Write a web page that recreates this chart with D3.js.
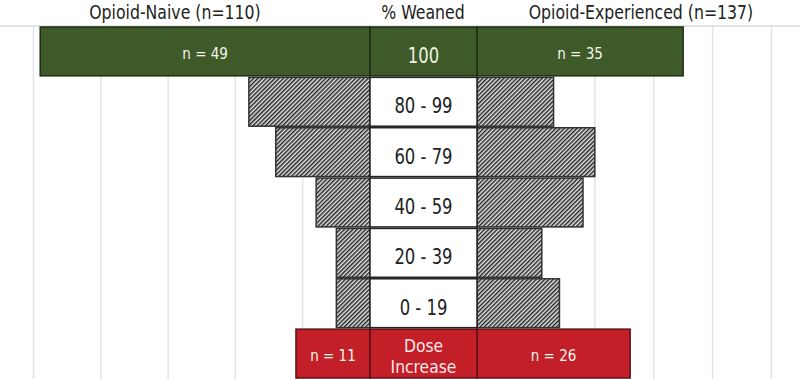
<!DOCTYPE html>
<html>
<head>
<meta charset="utf-8">
<script src="https://cdn.jsdelivr.net/npm/d3@7"></script>
<style>
  html, body { margin: 0; padding: 0; background: #fff; }
  #container { width: 800px; height: 379px; }
  text { font-family: "DejaVu Sans Condensed", "Liberation Sans Narrow", "Roboto", sans-serif; }
</style>
</head>
<body>
<div id="container"></div>
<script>
// 数据
const categories = ["100", "80 - 99", "60 - 79", "40 - 59", "20 - 39", "0 - 19", "Dose Increase"];
const naive = [49, 18, 14, 8, 5, 5, 11]; // Opioid-Naive 每组人数
const experienced = [35, 13, 20, 18, 11, 14, 26]; // Opioid-Experienced 每组人数
const gridTicks = [0, 10, 20, 30, 40, 50];
const headers = ["Opioid-Naive (n=110)", "% Weaned", "Opioid-Experienced (n=137)"];

const width = 800;
const height = 379;

const svg = d3.select("#container")
  .append("svg")
  .attr("width", width)
  .attr("height", height)
  .attr("viewBox", [0, 0, width, height]);

// 横向压缩文字（原图字体较窄）
function squeeze(sel, k) {
  sel.each(function (d) {
    const f = typeof k === "function" ? k(d) : k;
    const w = this.getComputedTextLength();
    this.setAttribute("textLength", w * f);
    this.setAttribute("lengthAdjust", "spacingAndGlyphs");
  });
}

// 斜线填充
const defs = svg.append("defs");
const pat = defs.append("pattern")
  .attr("id", "hatch")
  .attr("patternUnits", "userSpaceOnUse")
  .attr("width", 3)
  .attr("height", 3)
  .attr("patternTransform", "rotate(45)");
pat.append("rect").attr("width", 3).attr("height", 3).attr("fill", "#e4e4e4");
pat.append("line")
  .attr("x1", 0.75).attr("y1", 0).attr("x2", 0.75).attr("y2", 3)
  .attr("stroke", "#1a1a1a").attr("stroke-width", 1.4);

// 比例尺：两侧各自的像素比例
const centerL = 370, centerR = 477;
const midX = (centerL + centerR) / 2;
const xLeft = d3.scaleLinear([0, 50], [centerL, 33.5]);
const xRight = d3.scaleLinear([0, 50], [centerR, 771.5]);
const y = d3.scaleBand(categories, [27, 378]).paddingInner(0.03);
const last = categories.length - 1;

const green = "#3e5a28", red = "#c21f28";
const fillFor = (i) => i === 0 ? green : i === last ? red : "url(#hatch)";
const strokeFor = (i) => i === 0 ? "#1f2d14" : i === last ? "#5a1014" : "#333";

// 网格线
const grid = svg.append("g").attr("stroke", "#e4e4e4").attr("stroke-width", 1.5);
grid.selectAll(".gl").data(gridTicks.slice(1)).join("line")
  .attr("class", "gl")
  .attr("x1", d => xLeft(d)).attr("x2", d => xLeft(d))
  .attr("y1", 26).attr("y2", height);
grid.selectAll(".gr").data(gridTicks.slice(1)).join("line")
  .attr("class", "gr")
  .attr("x1", d => xRight(d)).attr("x2", d => xRight(d))
  .attr("y1", 26).attr("y2", height);

// 表头分隔线
svg.append("line")
  .attr("x1", 0).attr("x2", width).attr("y1", 26).attr("y2", 26)
  .attr("stroke", "#c8c8c8").attr("stroke-width", 1);

// 表头
svg.append("g")
  .attr("font-size", 19)
  .attr("fill", "#222")
  .attr("text-anchor", "middle")
  .selectAll("text")
  .data(headers)
  .join("text")
  .attr("x", (d, i) => [175, 423, 641][i])
  .attr("y", 19)
  .text(d => d)
  .call(squeeze, 0.92);

const I = d3.range(categories.length);

// 左侧柱
svg.append("g").selectAll("rect").data(I).join("rect")
  .attr("x", i => xLeft(naive[i]))
  .attr("y", i => y(categories[i]))
  .attr("width", i => xLeft(0) - xLeft(naive[i]))
  .attr("height", y.bandwidth())
  .attr("fill", fillFor)
  .attr("stroke", strokeFor)
  .attr("stroke-width", 1.5);

// 右侧柱
svg.append("g").selectAll("rect").data(I).join("rect")
  .attr("x", xRight(0))
  .attr("y", i => y(categories[i]))
  .attr("width", i => xRight(experienced[i]) - xRight(0))
  .attr("height", y.bandwidth())
  .attr("fill", fillFor)
  .attr("stroke", strokeFor)
  .attr("stroke-width", 1.5);

// 中间类别框
svg.append("g").selectAll("rect").data(I).join("rect")
  .attr("x", centerL)
  .attr("y", i => y(categories[i]))
  .attr("width", centerR - centerL)
  .attr("height", y.bandwidth())
  .attr("fill", i => i === 0 ? green : i === last ? red : "#fff")
  .attr("stroke", i => i === 0 || i === last ? strokeFor(i) : "#222")
  .attr("stroke-width", 1.5);

// 类别文字（最后一行拆成两行）
const catLines = [];
I.forEach(i => {
  const cy = y(categories[i]) + y.bandwidth() / 2;
  if (i === last) {
    const words = categories[i].split(" ");
    catLines.push({ i, text: words[0], y: cy - 1.5 });
    catLines.push({ i, text: words[1], y: cy + 19.5 });
  } else {
    catLines.push({ i, text: categories[i], y: cy + 11.5 });
  }
});
svg.append("g")
  .attr("text-anchor", "middle")
  .selectAll("text").data(catLines).join("text")
  .attr("font-size", d => d.i === last ? 18 : 22)
  .attr("x", midX)
  .attr("y", d => d.y)
  .attr("fill", d => d.i === 0 ? "#eef3e2" : d.i === last ? "#fbe8e8" : "#222")
  .text(d => d.text)
  .call(squeeze, d => d.i === last ? 0.96 : 0.83);

// n 标注（仅首尾两行）
const labelled = [0, last];
const lab = svg.append("g")
  .attr("font-size", 15)
  .attr("text-anchor", "middle")
  .attr("fill", "#f4f4ea");
lab.selectAll(".nl").data(labelled).join("text")
  .attr("class", "nl")
  .attr("x", i => (xLeft(naive[i]) + xLeft(0)) / 2)
  .attr("y", i => y(categories[i]) + y.bandwidth() / 2 + 7.5)
  .text(i => `n = ${naive[i]}`);
lab.selectAll(".nr").data(labelled).join("text")
  .attr("class", "nr")
  .attr("x", i => (xRight(experienced[i]) + xRight(0)) / 2)
  .attr("y", i => y(categories[i]) + y.bandwidth() / 2 + 7.5)
  .text(i => `n = ${experienced[i]}`);
</script>
</body>
</html>
